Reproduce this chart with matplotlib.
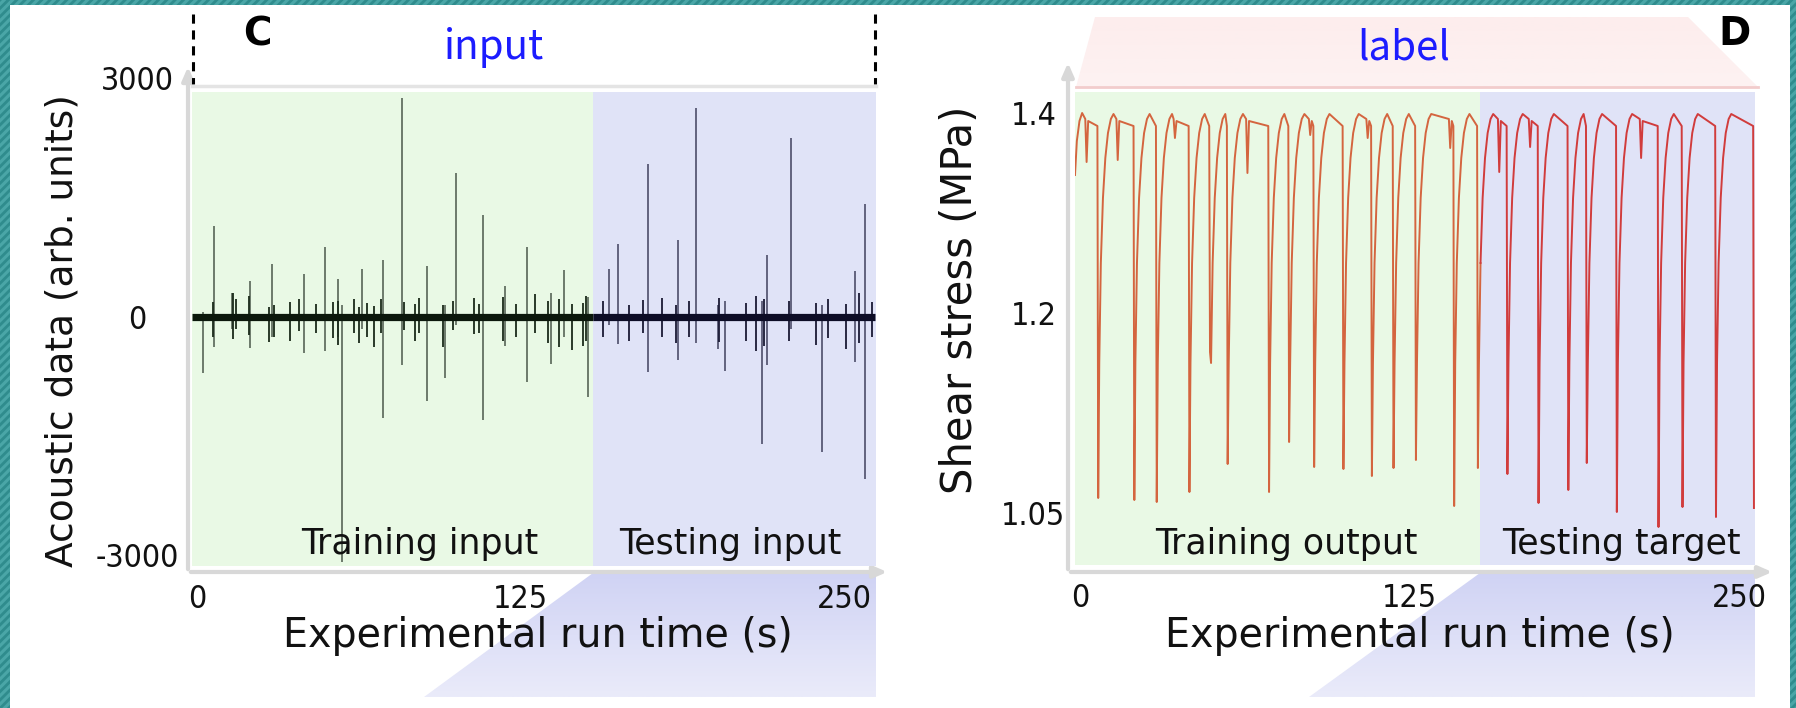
import numpy as np
import matplotlib.pyplot as plt
import matplotlib.colors as mcolors
from matplotlib import font_manager
from matplotlib.patches import Polygon, Rectangle

W, H = 1796, 708  # output size in pixels

# ---- panel C: acoustic data ----
AE_T_START, AE_T_END = -1.8, 262.0
AE_SPLIT = 153.1
AE_SPIKE_T = [2.5, 6.7, 13.4, 20.5, 29.1, 41.4, 49.5, 54.4, 56.2, 63.7,
              71.8, 79.4, 89.0, 95.9, 100.1, 110.7, 119.1, 127.7, 136.8, 142.0,
              151.2, 159.4, 162.6, 174.4, 186.0, 192.9, 201.4, 204.1, 218.2, 220.2,
              229.4, 241.7, 254.3, 258.2]
AE_SPIKE_UP = [60, 1139, 300, 454, 668, 542, 879, 475, 150, 605,
               718, 2749, 647, 150, 1812, 1286, 391, 879, 300, 593,
               250, 605, 917, 1929, 971, 2631, 150, 200, 200, 782,
               2245, 150, 584, 1421]
AE_SPIKE_DN = [-706, -374, -150, -391, -250, -454, -425, -250, -3086, -150,
               -1265, -605, -1059, -765, -100, -1299, -366, -824, -597, -250,
               -1005, -100, -340, -698, -542, -332, -403, -677, -1593, -605,
               -150, -1698, -570, -2034]
# small bursts riding on the noise band
AE_BURST_T = [6.1, 13.8, 15.1, 20.2, 27.9, 29.9, 36.1, 39.5, 46.0, 52.4,
              54.4, 60.8, 62.7, 65.9, 68.5, 71.1, 80.1, 84.4, 86.0, 95.0,
              98.8, 107.1, 109.1, 118.4, 123.3, 130.7, 135.5, 140.0, 145.1, 149.0,
              150.3, 156.8, 167.1, 172.2, 179.9, 185.1, 190.3, 201.8, 212.1, 216.0,
              219.2, 228.8, 239.2, 243.7, 250.7, 255.9, 261.0]
AE_BURST_UP = [190, 300, 220, 260, 120, 150, 190, 230, 160, 190,
               200, 230, 120, 170, 140, 220, 190, 160, 240, 150,
               200, 240, 160, 250, 160, 290, 200, 230, 160, 180,
               260, 200, 150, 210, 240, 150, 200, 240, 170, 260,
               220, 200, 180, 230, 160, 300, 190]
AE_BURST_DN = [250, 280, 150, 230, 320, 250, 300, 180, 200, 260,
               350, 200, 330, 250, 380, 200, 160, 300, 200, 380,
               160, 220, 200, 300, 250, 200, 330, 380, 420, 360,
               300, 250, 300, 200, 250, 330, 250, 320, 300, 430,
               360, 300, 350, 270, 400, 330, 250]

# ---- panel D: shear stress ----
ST_SPLIT = 151.7
ST_START_T = [-1.9, -1.2, -0.2, 0.8]
ST_START_V = [1.338, 1.372, 1.392, 1.400]
SLIP_T = [6.9, 20.6, 29.1, 41.5, 49.3, 56.0, 71.7, 79.3, 88.8, 99.9,
          110.7, 118.9, 127.4, 141.9, 150.9, 162.1, 173.9, 185.2, 192.2, 203.6,
          219.4, 228.5, 241.2, 255.6]
SLIP_MIN = [1.015, 1.013, 1.011, 1.021, 1.161, 1.049, 1.021, 1.071, 1.046, 1.044,
            1.037, 1.045, 1.053, 1.007, 1.045, 1.039, 1.010, 1.023, 1.050, 1.001,
            0.986, 1.006, 0.996, 1.005]
FORE_T = [2.5, 14.3, 36.0, 63.5, 87.3, 109.1, 140.4, 159.0, 170.7, 212.8]
FORE_V = [1.351, 1.353, 1.375, 1.340, 1.378, 1.375, 1.365, 1.341, 1.366, 1.355]
# reloading shape after a slip (seconds after slip, MPa)
RISE_DT = [0.4, 1.0, 1.8, 2.7, 3.7, 4.8, 5.8]
RISE_V = [1.15, 1.25, 1.315, 1.355, 1.38, 1.394, 1.399]
PRE_SLIP_V = 1.387

AE_TICKS = [-3000, 0, 3000]
ST_TICKS = [1.0, 1.2, 1.4]
ST_TICK_LABELS = ['1.05', '1.2', '1.4']   # as printed on the source figure
T_TICKS = [0, 125, 250]

GREEN = '#e9f9e5'
BLUE = '#e0e3f7'


def pick_tick_font():
    fl = font_manager.fontManager.ttflist
    if any(f.name == 'DejaVu Sans' and str(f.stretch) == 'condensed' for f in fl):
        return 'DejaVu Sans', 'condensed'
    if any(f.name == 'Liberation Sans Narrow' for f in fl):
        return 'Liberation Sans Narrow', 'normal'
    return 'DejaVu Sans', 'normal'


def px_axes(x0, y0, x1, y1, **kw):
    return fig.add_axes([x0 / W, 1 - y1 / H, (x1 - x0) / W, (y1 - y0) / H], **kw)


def grad_poly(pts, c_top, c_bot, z=1):
    poly = Polygon(pts, closed=True, facecolor='none', edgecolor='none')
    bg.add_patch(poly)
    xs = [p[0] for p in pts]
    ys = [p[1] for p in pts]
    g = np.linspace(0, 1, 64)[:, None, None]
    c0 = np.array(mcolors.to_rgb(c_top))
    c1 = np.array(mcolors.to_rgb(c_bot))
    img = c0 * (1 - g) + c1 * g
    im = bg.imshow(img, extent=(min(xs), max(xs), max(ys), min(ys)),
                   aspect='auto', zorder=z, interpolation='bilinear')
    im.set_clip_path(poly)


def stress_curve():
    ts = list(ST_START_T)
    vs = list(ST_START_V)
    for i, (t, m) in enumerate(zip(SLIP_T, SLIP_MIN)):
        lo = ST_START_T[-1] if i == 0 else SLIP_T[i - 1]
        pts = []
        if i > 0:
            for dt, v in zip(RISE_DT, RISE_V):
                if lo + dt < t - 0.6:
                    pts.append((lo + dt, v))
        for ft, fv in zip(FORE_T, FORE_V):
            if lo < ft < t:
                pts += [(ft - 0.5, 1.394), (ft, fv), (ft + 0.6, 1.392)]
        pts.append((t - 0.3, PRE_SLIP_V))
        pts.sort()
        ts += [p[0] for p in pts] + [t]
        vs += [p[1] for p in pts] + [m]
    return np.array(ts), np.array(vs)


def style_ticks(ax, ypad):
    fam, stretch = pick_tick_font()
    ax.tick_params(length=0, labelsize=23, labelcolor='#111111')
    ax.tick_params(axis='x', pad=13)
    ax.tick_params(axis='y', pad=ypad)
    for lab in ax.get_xticklabels() + ax.get_yticklabels():
        lab.set_fontfamily(fam)
        lab.set_fontstretch(stretch)
    for lab in ax.get_yticklabels():
        lab.set_ha('center')
    for s in ax.spines.values():
        s.set_visible(False)


plt.rcParams['font.family'] = 'DejaVu Sans'
plt.rcParams['axes.unicode_minus'] = False
plt.rcParams['hatch.color'] = '#2f8c8d'
plt.rcParams['hatch.linewidth'] = 2.0

fig = plt.figure(figsize=(W / 100, H / 100), dpi=100)
fig.patch.set_facecolor('white')

# background layer in pixel coordinates for the decorations
bg = fig.add_axes([0, 0, 1, 1], zorder=0)
bg.axis('off')

# teal hatched frame
for x, y, w, h in [(0, 0, 10, H), (0, 0, W, 5), (W - 6, 0, 6, H)]:
    bg.add_patch(Rectangle((x, y), w, h, facecolor='#4aa6a7', hatch='////',
                           edgecolor='#2f8c8d', linewidth=0, zorder=5))

# panel C header
for x in (193, 875):
    bg.plot([x, x], [14, 84], color='black', lw=2.2, ls=(0, (3, 2.2)), zorder=3)
bg.plot([192, 876], [86, 86], color='#e4e4e4', lw=2.5, zorder=3)
bg.text(257, 34, 'C', fontsize=28, fontweight='bold', ha='center', va='center')
bg.text(494, 48, 'input', fontsize=29, color='#1c1cff', ha='center', va='center',
        family=['Noto Sans CJK SC', 'DejaVu Sans'])

# panel D header (pink trapezoid)
grad_poly([(1095, 17), (1688, 17), (1758, 87), (1076, 87)], '#fdeded', '#fdf2f2')
bg.plot([1076, 1758], [87, 87], color='#f2cccc', lw=2, zorder=3)
bg.text(1734, 34, 'D', fontsize=28, fontweight='bold', ha='center', va='center')
bg.text(1404, 48, 'label', fontsize=29, color='#1c1cff', ha='center', va='center',
        family=['Noto Sans CJK SC', 'DejaVu Sans'])

# blue trapezoids under the test sections
grad_poly([(593, 573), (876, 573), (876, 697), (424, 697)], '#d0d3f4', '#eaebfa')
grad_poly([(1480, 573), (1755, 573), (1755, 697), (1309, 697)], '#d0d3f4', '#eaebfa')

# axis arrows
arrow = dict(arrowstyle='-|>,head_width=0.35,head_length=0.8', color='#d8d8d8', lw=3)
for (x0, y0, x1, y1) in [(188, 572, 188, 64), (188, 572, 890, 572),
                         (1068, 572, 1068, 60), (1068, 572, 1775, 572)]:
    bg.annotate('', xy=(x1, y1), xytext=(x0, y0), arrowprops=arrow, zorder=2)

bg.set_xlim(0, W)
bg.set_ylim(H, 0)

# ---------- panel C ----------
axc = px_axes(192, 74.5, 876, 565.8, zorder=2)
axc.patch.set_alpha(0)
ylo, yhi = -3130, 3050
axc.set_xlim(-1.9, 262.4)
axc.set_ylim(ylo, yhi)
shade_top = (2830 - ylo) / (yhi - ylo)
axc.axvspan(-1.9, AE_SPLIT, ymax=shade_top, color=GREEN, lw=0, zorder=0)
axc.axvspan(AE_SPLIT, 262.4, ymax=shade_top, color=BLUE, lw=0, zorder=0)

spk_t = np.array(AE_SPIKE_T)
tr = spk_t < AE_SPLIT
axc.vlines(spk_t[tr], np.array(AE_SPIKE_DN)[tr], np.array(AE_SPIKE_UP)[tr],
           color='#4a584a', lw=1.1, zorder=2)
axc.vlines(spk_t[~tr], np.array(AE_SPIKE_DN)[~tr], np.array(AE_SPIKE_UP)[~tr],
           color='#40405e', lw=1.1, zorder=2)
b_t = np.array(AE_BURST_T)
btr = b_t < AE_SPLIT
axc.vlines(b_t[btr], -np.array(AE_BURST_DN)[btr], np.array(AE_BURST_UP)[btr],
           color='#1a2a1a', lw=1.3, zorder=3)
axc.vlines(b_t[~btr], -np.array(AE_BURST_DN)[~btr], np.array(AE_BURST_UP)[~btr],
           color='#1a1a35', lw=1.3, zorder=3)
axc.plot([AE_T_START, AE_SPLIT], [0, 0], color='#0c180c', lw=5.2,
         solid_capstyle='butt', zorder=4)
axc.plot([AE_SPLIT, AE_T_END], [0, 0], color='#0d0d26', lw=5.2,
         solid_capstyle='butt', zorder=4)

axc.text(86.2, -2855, 'Training input', fontsize=25, ha='center', va='center',
         color='#111111', zorder=5)
axc.text(206.0, -2855, 'Testing input', fontsize=25, ha='center', va='center',
         color='#111111', zorder=5)

axc.set_xticks(T_TICKS)
axc.set_yticks(AE_TICKS)
style_ticks(axc, ypad=39.6)
axc.set_xlabel('Experimental run time (s)', fontsize=28.5, color='#111111')
axc.xaxis.set_label_coords((538 - 192) / 684, (565.8 - 636) / 491.3)
axc.xaxis.label.set_va('center')
axc.set_ylabel('Acoustic data (arb. units)', fontsize=27, color='#111111')
axc.yaxis.set_label_coords((63 - 192) / 684, (565.8 - 331) / 491.3)
axc.yaxis.label.set_va('center')

# ---------- panel D ----------
axd = px_axes(1075, 92, 1755, 565, zorder=2)
axd.patch.set_alpha(0)
axd.set_xlim(-1.9, 256)
axd.set_ylim(0.948, 1.421)
axd.axvspan(-1.9, ST_SPLIT, color=GREEN, lw=0, zorder=0)
axd.axvspan(ST_SPLIT, 256, color=BLUE, lw=0, zorder=0)

st_t, st_v = stress_curve()
k = np.searchsorted(st_t, ST_SPLIT)
axd.plot(st_t[:k + 1], st_v[:k + 1], color='#d4653f', lw=1.4, zorder=3)
axd.plot(st_t[k:], st_v[k:], color='#d13c3c', lw=1.4, zorder=3)

axd.text(78.1, 0.969, 'Training output', fontsize=25, ha='center', va='center',
         color='#111111', zorder=5)
axd.text(205.2, 0.969, 'Testing target', fontsize=25, ha='center', va='center',
         color='#111111', zorder=5)

axd.set_xticks(T_TICKS)
axd.set_yticks(ST_TICKS)
axd.set_yticklabels(ST_TICK_LABELS)
style_ticks(axd, ypad=30)
axd.set_xlabel('Experimental run time (s)', fontsize=28.5, color='#111111')
axd.xaxis.set_label_coords((1420 - 1075) / 680, (565 - 636) / 473)
axd.xaxis.label.set_va('center')
axd.set_ylabel('Shear stress (MPa)', fontsize=30, color='#111111')
axd.yaxis.set_label_coords((960 - 1075) / 680, (565 - 300) / 473)
axd.yaxis.label.set_va('center')

fig.savefig('out.png', dpi=100)
